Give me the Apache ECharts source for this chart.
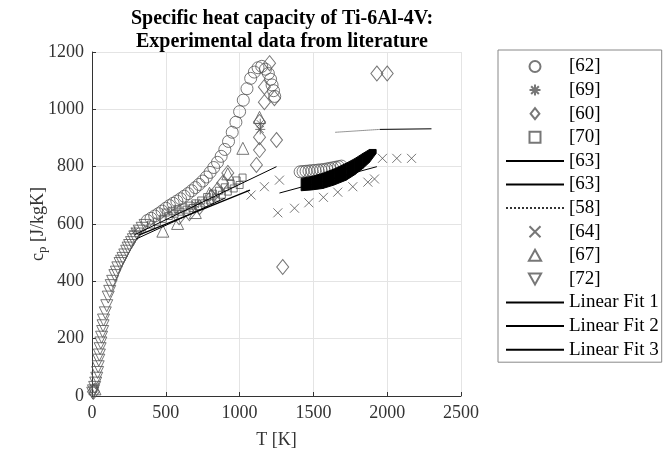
<!DOCTYPE html>
<html><head><meta charset="utf-8">
<script src="https://cdn.jsdelivr.net/npm/echarts@6/dist/echarts.min.js"></script>
<style>html,body{margin:0;padding:0;background:#fff}#c{width:665px;height:455px}</style>
</head><body><div id="c"></div>
<script>
// ---- data (T [K], cp [J/kgK]) ----
const s62 = [[375,612],[400,620],[425,628],[450,636],[475,645],[500,655],[525,664],[550,672],[575,680],[600,688],[625,697],[650,706],[675,716],[700,727],[725,738],[750,750],[775,764],[800,780],[825,797],[850,815],[875,836],[900,860],[925,888],[950,920],[975,955],[1000,992],[1025,1032],[1050,1072],[1075,1108],[1100,1130],[1125,1145],[1150,1150],[1175,1140],[1195,1125],[1210,1105],[1220,1085],[1230,1065],[1238,1045],
  [1410,782],[1430,783],[1450,784],[1470,785],[1490,786],[1510,787],[1530,788],[1550,789],[1570,790],[1590,792],[1610,794],[1630,796],[1650,798],[1670,800],[1690,802]];
const s69 = [[290,575],[700,668],[1140,930],[1140,950]];
const s60 = [[10,15],[590,624],[660,638],[728,659],[810,694],[851,719],[885,743],[920,778],[1114,806],[1135,858],[1135,903],[1250,893],[1135,956],[1168,1025],[1236,1039],[1168,1078],[1203,1161],[1292,450],[1930,1125],[2000,1125]];
const s70 = [[10,25],[400,598],[440,608],[480,618],[520,628],[560,636],[600,643],[640,650],[680,656],[720,663],[760,672],[800,682],[840,692],[880,702],[920,713],[960,724],[1000,736],
  [500,640],[540,646],[580,652],[620,658],[660,664],[700,672],[740,682],[780,694],[820,706],[860,716],[900,728],[940,740],[980,752],[1020,762]];
const bandT = [1417,1490,1564,1640,1722,1780,1835,1880,1925];
const bandUpper = [759,766,777,792,812,828,846,860,860];
const bandLower = [716,719,724,736,753,772,794,815,846];
const s63a = [[1950,930],[2300,932]];
const s63b = [[1270,708],[1930,800]];
const s58 = [[1650,920],[1950,930]];
const s64 = [[1259,639],[1372,655],[1469,674],[1568,693],[1665,711],[1767,730],[1869,746],[1914,757],[1968,829],[2065,829],[2165,829],[1078,701],[1168,730],[1270,753]];
const s67 = [[20,25],[480,575],[580,602],[700,640],[796,707],[920,775],[1022,864],[1135,972]];
const s72 = [[5,10],[10,18],[18,30],[25,45],[32,62],[38,82],[42,102],[46,125],[50,143],[55,165],[60,185],[65,205],[72,225],[75,245],[78,265],[90,290],[100,315],[110,345],[120,365],[130,385],[140,400],[155,420],[165,432],[175,447],[190,462],[200,470],[210,480],[222,492],[235,505],[245,516],[255,525],[268,535],[280,545],[290,555],[305,565],[320,575],[340,585],[360,595]];
const fit1 = [[290,563],[1250,800]];
const fit2 = [[320,562],[1070,718]];
const fit3 = [[300,548],[900,690]];
const legendNames = ['[62]','[69]','[60]','[70]','[63]','[63] ','[58]','[64]','[67]','[72]','Linear Fit 1','Linear Fit 2','Linear Fit 3'];
const xTicks = {min:0, max:2500, interval:500};
const yTicks = {min:0, max:1200, interval:200};

const FONT = 'Liberation Serif';
const MK = '#555';
const hollow = {color:'rgba(0,0,0,0)', borderColor:MK, borderWidth:1};
function sc(name, data, symbol, size, extra) {
  return Object.assign({type:'scatter', name, data, symbol, symbolSize:size, itemStyle:hollow, silent:true, z:3}, extra||{});
}
function ln(name, data, style) {
  return {type:'line', name, data, symbol:'none', showSymbol:false, silent:true,
    itemStyle:{color:'rgba(0,0,0,0)', borderColor:'rgba(0,0,0,0)'},
    lineStyle:Object.assign({color:'#000', width:1}, style||{}), z:4};
}
const STAR = 'path://M5,0L5,10M0,5L10,5M1.5,1.5L8.5,8.5M1.5,8.5L8.5,1.5';
const CROSS = 'path://M0,0L10,10M0,10L10,0';
const DTRI = 'path://M0,0L10,0L5,9Z';
const UTRI = 'path://M5,0L10,9L0,9Z';
const DIAM = 'path://M4,0L8,5L4,10L0,5Z';
const SQR = 'path://M0,0L10,0L10,10L0,10Z';
const plain = v => String(v);

const chart = echarts.init(document.getElementById('c'), null, {renderer:'canvas'});
chart.setOption({
  animation:false,
  backgroundColor:'#fff',
  title:{text:'Specific heat capacity of Ti-6Al-4V:\nExperimental data from literature', left:277, top:2, textAlign:'center',
    textStyle:{fontFamily:FONT, fontSize:20, fontWeight:'bold', color:'#000', lineHeight:23}},
  grid:{left:92, right:204, top:52, bottom:59},
  legend:{orient:'vertical', left:498, top:50, data:legendNames, itemWidth:58, itemHeight:11, itemGap:4.6,
    symbolKeepAspect:true,
    padding:[7,3,3,7], borderColor:'#888', borderWidth:1, selectedMode:false,
    textStyle:{fontFamily:FONT, fontSize:19, color:'#000', lineHeight:19}},
  xAxis:{type:'value', min:xTicks.min, max:xTicks.max, interval:xTicks.interval, name:'T [K]', nameLocation:'middle', nameGap:35,
    nameTextStyle:{fontFamily:FONT, fontSize:18, color:'#333'},
    axisLine:{show:true, lineStyle:{color:'#333'}}, axisTick:{show:true, inside:true, length:4, lineStyle:{color:'#333'}},
    axisLabel:{fontFamily:FONT, fontSize:18, color:'#333', margin:8, formatter:plain}, splitLine:{show:true, lineStyle:{color:'#e4e4e4'}}},
  yAxis:{type:'value', min:yTicks.min, max:yTicks.max, interval:yTicks.interval, nameLocation:'middle', nameGap:54, nameRotate:90,
    nameMoveOverlap:false,
    name:'{m|c}{s|p}{m| [J/kgK]}',
    nameTextStyle:{fontFamily:FONT, fontSize:18, color:'#333', verticalAlign:'middle', rich:{m:{fontFamily:FONT, fontSize:18, color:'#333', lineHeight:22, verticalAlign:'middle'}, s:{fontFamily:FONT, fontSize:13, color:'#333', lineHeight:13, verticalAlign:'bottom'}}},
    axisLine:{show:true, lineStyle:{color:'#333'}}, axisTick:{show:true, inside:true, length:4, lineStyle:{color:'#333'}},
    axisLabel:{fontFamily:FONT, fontSize:18, color:'#333', margin:8, formatter:plain}, splitLine:{show:true, lineStyle:{color:'#e4e4e4'}}},
  series:[
    sc('[62]', s62, 'circle', 12),
    sc('[69]', s69, STAR, 10),
    sc('[60]', s60, DIAM, [12,15]),
    sc('[70]', s70, SQR, 7),
    {type:'custom', name:'[70]', silent:true, z:5, data:bandT.map((t,i)=>[t,bandUpper[i],bandLower[i]]),
      encode:{x:0, y:[1,2]},
      renderItem:function(params, api){
        const i = params.dataIndex;
        if (i >= bandT.length-1) return null;
        const pts = [api.coord([bandT[i],bandUpper[i]]), api.coord([bandT[i+1],bandUpper[i+1]]), api.coord([bandT[i+1],bandLower[i+1]]), api.coord([bandT[i],bandLower[i]])];
        return {type:'polygon', shape:{points:pts}, style:{fill:'#000', stroke:'#000', lineWidth:1}};
      }},
    ln('[63]', s63a),
    ln('[63] ', s63b),
    ln('[58]', s58, {type:'dotted', color:'#333'}),
    sc('[64]', s64, CROSS, 9),
    sc('[67]', s67, UTRI, 12),
    sc('[72]', s72, DTRI, 12),
    ln('Linear Fit 1', fit1),
    ln('Linear Fit 2', fit2, {width:1.4}),
    ln('Linear Fit 3', fit3)
  ]
});
</script></body></html>
